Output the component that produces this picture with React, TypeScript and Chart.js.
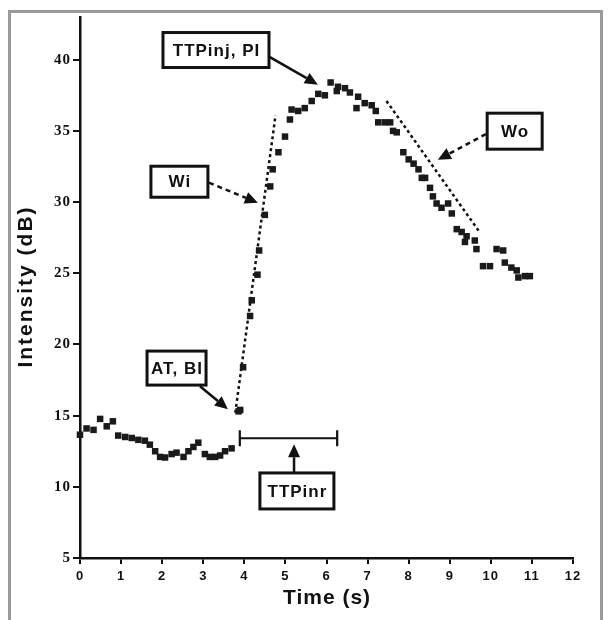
import React, { useEffect, useRef } from "react";
import { Chart, registerables } from "chart.js";

Chart.register(...registerables);

// ---- data ----
const timeS = [
  0.0, 0.16, 0.33, 0.49, 0.65, 0.8, 0.93, 1.1, 1.26, 1.42, 1.58, 1.7, 1.83, 1.95, 2.07,
  2.23, 2.35, 2.52, 2.64, 2.76, 2.88, 3.04, 3.16, 3.29, 3.41, 3.53, 3.69,
  3.86, 3.9, 3.97, 4.14, 4.18, 4.32, 4.36, 4.5, 4.63, 4.69, 4.83, 4.99, 5.11, 5.15,
  5.31, 5.47, 5.64, 5.8, 5.96, 6.1, 6.25, 6.28, 6.45, 6.57, 6.73, 6.77, 6.93, 7.1,
  7.2, 7.26, 7.42, 7.55, 7.62, 7.71, 7.87, 8.0, 8.12, 8.24, 8.32, 8.4, 8.52, 8.59,
  8.68, 8.8, 8.96, 9.05, 9.17, 9.29, 9.37, 9.41, 9.61, 9.65, 9.81, 9.98, 10.14, 10.3,
  10.34, 10.5, 10.63, 10.67, 10.83, 10.95,
];
const intensityDb = [
  13.66, 14.1, 14.0, 14.77, 14.25, 14.6, 13.6, 13.5, 13.43, 13.3, 13.24, 12.96, 12.5, 12.1, 12.06,
  12.3, 12.4, 12.1, 12.5, 12.8, 13.1, 12.3, 12.1, 12.1, 12.2, 12.5, 12.7,
  15.3, 15.4, 18.4, 22.0, 23.1, 24.9, 26.6, 29.1, 31.1, 32.3, 33.5, 34.6, 35.8, 36.5,
  36.4, 36.6, 37.1, 37.6, 37.5, 38.4, 37.8, 38.1, 38.0, 37.7, 36.6, 37.4, 36.95, 36.8,
  36.4, 35.6, 35.6, 35.6, 35.0, 34.9, 33.5, 33.0, 32.7, 32.3, 31.7, 31.7, 31.0, 30.4,
  29.9, 29.6, 29.9, 29.2, 28.1, 27.9, 27.2, 27.6, 27.3, 26.7, 25.5, 25.5, 26.7, 26.6,
  25.75, 25.4, 25.2, 24.7, 24.8, 24.8,
];
const wiLineTime = [3.78, 4.76];
const wiLineDb = [15.2, 36.1];
const woLineTime = [7.46, 9.71];
const woLineDb = [37.1, 27.96];

const xTickValues = [0, 1, 2, 3, 4, 5, 6, 7, 8, 9, 10, 11, 12];
const yTickValues = [5, 10, 15, 20, 25, 30, 35, 40];
const xTitle = "Time (s)";
const yTitle = "Intensity (dB)";

// annotation labels (positions in data units)
const boxLabels = ["TTPinj, PI", "Wi", "Wo", "AT, BI", "TTPinr"];
const boxTime = [3.31, 2.42, 10.58, 2.35, 5.28];
const boxDb = [40.68, 31.43, 34.98, 18.34, 9.71];
const boxW = [106, 57, 55, 59, 74];
const boxH = [35, 31, 36, 34, 36];

const arrowFromTime = [4.6, 3.14, 9.88, 2.92, 5.21];
const arrowFromDb = [40.22, 31.36, 34.78, 17.07, 11.02];
const arrowToTime = [5.79, 4.33, 8.71, 3.6, 5.21];
const arrowToDb = [38.25, 29.95, 32.97, 15.45, 12.99];
const arrowDashed = [false, true, true, false, false];

const intervalTime = [3.89, 6.26];
const intervalDb = 13.41;

const SANS = "'Liberation Sans', Arial, sans-serif";

const annotationPlugin = {
  id: "annots",
  beforeDraw(chart: any) {
    const ctx = chart.ctx;
    ctx.save();
    ctx.fillStyle = "#fff";
    ctx.fillRect(0, 0, chart.width, chart.height);
    ctx.strokeStyle = "#9a9a9a";
    ctx.lineWidth = 3;
    ctx.beginPath();
    ctx.moveTo(9.5, chart.height);
    ctx.lineTo(9.5, 11.5);
    ctx.lineTo(601.5, 11.5);
    ctx.lineTo(601.5, chart.height);
    ctx.stroke();
    ctx.restore();
    // slight letter spacing for the tick labels drawn by the scales
    (ctx as any).letterSpacing = "1px";
  },
  afterDatasetsDraw(chart: any) {
    const ctx = chart.ctx;
    const xs = chart.scales.x;
    const ys = chart.scales.y;
    const area = chart.chartArea;
    ctx.save();
    // axis titles
    ctx.fillStyle = "#111";
    ctx.font = `bold 21px ${SANS}`;
    ctx.textAlign = "center";
    ctx.textBaseline = "middle";
    (ctx as any).letterSpacing = "1px";
    ctx.fillText(xTitle, (area.left + area.right) / 2 + 0.5, 598);
    ctx.save();
    ctx.translate(26, (area.top + area.bottom) / 2);
    ctx.rotate(-Math.PI / 2);
    (ctx as any).letterSpacing = "2px";
    ctx.fillText(yTitle, 1, 0);
    ctx.restore();
    (ctx as any).letterSpacing = "0px";
    // arrows
    for (let i = 0; i < arrowFromTime.length; i++) {
      const x1 = xs.getPixelForValue(arrowFromTime[i]);
      const y1 = ys.getPixelForValue(arrowFromDb[i]);
      const x2 = xs.getPixelForValue(arrowToTime[i]);
      const y2 = ys.getPixelForValue(arrowToDb[i]);
      const ang = Math.atan2(y2 - y1, x2 - x1);
      const headLen = 13;
      const headW = 6;
      const bx = x2 - headLen * Math.cos(ang);
      const by = y2 - headLen * Math.sin(ang);
      ctx.strokeStyle = "#111";
      ctx.fillStyle = "#111";
      ctx.lineWidth = 2.5;
      ctx.setLineDash(arrowDashed[i] ? [5, 4] : []);
      ctx.beginPath();
      ctx.moveTo(x1, y1);
      ctx.lineTo(bx, by);
      ctx.stroke();
      ctx.setLineDash([]);
      ctx.beginPath();
      ctx.moveTo(x2, y2);
      ctx.lineTo(bx + headW * Math.sin(ang), by - headW * Math.cos(ang));
      ctx.lineTo(bx - headW * Math.sin(ang), by + headW * Math.cos(ang));
      ctx.closePath();
      ctx.fill();
    }
    // interval bar
    const ix1 = xs.getPixelForValue(intervalTime[0]);
    const ix2 = xs.getPixelForValue(intervalTime[1]);
    const iy = ys.getPixelForValue(intervalDb);
    ctx.strokeStyle = "#111";
    ctx.lineWidth = 2.2;
    ctx.beginPath();
    ctx.moveTo(ix1, iy);
    ctx.lineTo(ix2, iy);
    ctx.moveTo(ix1, iy - 8);
    ctx.lineTo(ix1, iy + 8);
    ctx.moveTo(ix2, iy - 8);
    ctx.lineTo(ix2, iy + 8);
    ctx.stroke();
    // boxes
    for (let i = 0; i < boxLabels.length; i++) {
      const cx = xs.getPixelForValue(boxTime[i]);
      const cy = ys.getPixelForValue(boxDb[i]);
      const w = boxW[i];
      const h = boxH[i];
      ctx.fillStyle = "#fff";
      ctx.fillRect(cx - w / 2, cy - h / 2, w, h);
      ctx.strokeStyle = "#111";
      ctx.lineWidth = 3;
      ctx.strokeRect(cx - w / 2, cy - h / 2, w, h);
      ctx.fillStyle = "#111";
      ctx.font = `bold 17px ${SANS}`;
      (ctx as any).letterSpacing = "1px";
      ctx.textAlign = "center";
      ctx.textBaseline = "middle";
      ctx.fillText(boxLabels[i], cx + 0.5, cy + 1);
    }
    ctx.restore();
    (ctx as any).letterSpacing = "1px";
  },
};

export default function App() {
  const ref = useRef<HTMLCanvasElement | null>(null);
  useEffect(() => {
    if (!ref.current) return;
    const points = timeS.map((t, i) => ({ x: t, y: intensityDb[i] }));
    const chart = new Chart(ref.current, {
      type: "scatter",
      data: {
        datasets: [
          {
            data: wiLineTime.map((t, i) => ({ x: t, y: wiLineDb[i] })),
            showLine: true,
            borderColor: "#111",
            borderWidth: 2.5,
            borderDash: [3, 3],
            pointRadius: 0,
            order: 2,
          } as any,
          {
            data: woLineTime.map((t, i) => ({ x: t, y: woLineDb[i] })),
            showLine: true,
            borderColor: "#111",
            borderWidth: 2.5,
            borderDash: [3, 3],
            pointRadius: 0,
            order: 2,
          } as any,
          {
            data: points,
            pointStyle: "rect",
            pointRadius: 4.6,
            pointBackgroundColor: "#1a1a1a",
            pointBorderWidth: 0,
            borderWidth: 0,
            clip: false,
            order: 1,
          } as any,
        ],
      },
      options: {
        animation: false,
        responsive: false,
        devicePixelRatio: 1,
        events: [],
        layout: { padding: { top: 17, right: 37, bottom: 0, left: 0 } },
        plugins: { legend: { display: false }, tooltip: { enabled: false } },
        scales: {
          x: {
            type: "linear",
            min: 0,
            max: 12,
            afterBuildTicks: (s: any) => {
              s.ticks = xTickValues.map((v) => ({ value: v }));
            },
            afterFit: (s: any) => {
              s.height = 62;
            },
            ticks: {
              color: "#111",
              padding: 5,
              font: { family: SANS, weight: "bold", size: 13 },
            },
            grid: {
              display: true,
              drawOnChartArea: false,
              drawTicks: true,
              tickLength: 6,
              color: "#111",
              lineWidth: 2,
            },
            border: { display: true, color: "#111", width: 2.5 },
            title: { display: false },
          },
          y: {
            type: "linear",
            min: 5,
            max: 43,
            afterBuildTicks: (s: any) => {
              s.ticks = yTickValues.map((v) => ({ value: v }));
            },
            afterFit: (s: any) => {
              s.width = 80;
            },
            ticks: {
              color: "#111",
              padding: 2,
              font: { family: "'Liberation Serif', 'Times New Roman', serif", weight: "bold", size: 15 },
            },
            grid: {
              display: true,
              drawOnChartArea: false,
              drawTicks: true,
              tickLength: 7,
              color: "#111",
              lineWidth: 2,
            },
            border: { display: true, color: "#111", width: 2.5 },
            title: { display: false },
          },
        },
      },
      plugins: [annotationPlugin],
    });
    return () => chart.destroy();
  }, []);
  return (
    <div style={{ position: "fixed", left: 0, top: 0, width: 610, height: 620, background: "#fff" }}>
      <canvas ref={ref} width={610} height={620} style={{ display: "block", width: 610, height: 620 }} />
    </div>
  );
}
